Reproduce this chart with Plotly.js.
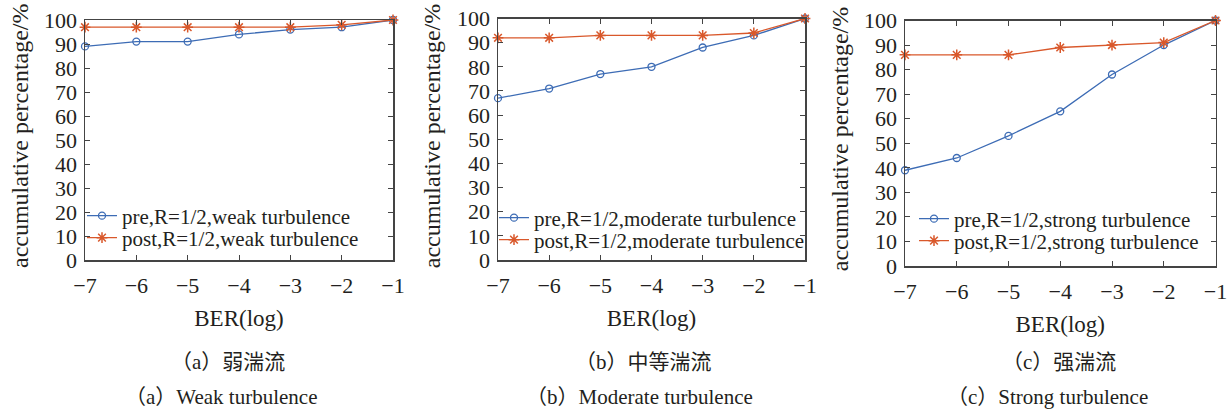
<!DOCTYPE html>
<html>
<head>
<meta charset="utf-8">
<script src="https://cdn.plot.ly/plotly-3.0.1.min.js"></script>
<style>html,body{margin:0;padding:0;background:#fff;}#chart{width:1231px;height:411px;}</style>
</head>
<body>
<div id="chart"></div>
<script>
// ---- data ----
const ber = [-7, -6, -5, -4, -3, -2, -1];
const berTicks = [-7, -6, -5, -4, -3, -2, -1];
const weakPre = [89, 91, 91, 94, 96, 97, 100];
const weakPost = [97, 97, 97, 97, 97, 98, 100];
const moderatePre = [67, 71, 77, 80, 88, 93, 100];
const moderatePost = [92, 92, 93, 93, 93, 94, 100];
const strongPre = [39, 44, 53, 63, 78, 90, 100];
const strongPost = [86, 86, 86, 89, 90, 91, 100];
const preNames = ["pre,R=1/2,weak turbulence", "pre,R=1/2,moderate turbulence", "pre,R=1/2,strong turbulence"];
const postNames = ["post,R=1/2,weak turbulence", "post,R=1/2,moderate turbulence", "post,R=1/2,strong turbulence"];
const yTitle = "accumulative percentage/%";
const xTitle = "BER(log)";
const captionsCN = ["（a）弱湍流", "（b）中等湍流", "（c）强湍流"];
const captionsEN = ["（a）Weak turbulence", "（b）Moderate turbulence", "（c）Strong turbulence"];

// ---- style ----
const W = 1231, H = 411;
const BLUE = "#3d6cb5", RED = "#d9582b", AX = "#444", TXT = "#231f20";
const SERIF = "Liberation Serif, Times New Roman, serif";
const CJK = "Liberation Serif, Noto Sans CJK SC, serif";

// pixel frames of each panel: [left, right, top, bottom]
const frames = [[85, 393, 20, 260], [498, 805, 18.5, 260], [905, 1215.5, 20.5, 266]];
const yTitleX = [20, 432, 840];
const legendX = [82, 494, 914];
const legendY = [[216, 238], [218, 240], [219, 241]];
const captionX = [[228, 221], [643, 639], [1059, 1047]];

const pre = [weakPre, moderatePre, strongPre];
const post = [weakPost, moderatePost, strongPost];

const traces = [];
const layout = {
  width: W, height: H,
  margin: {l: 0, r: 0, t: 0, b: 0},
  paper_bgcolor: "#fff", plot_bgcolor: "#fff",
  font: {family: SERIF, color: TXT, size: 22},
  showlegend: true,
  annotations: []
};

for (let i = 0; i < 3; i++) {
  const [l, r, t, b] = frames[i];
  const xa = i === 0 ? "x" : "x" + (i + 1);
  const ya = i === 0 ? "y" : "y" + (i + 1);
  const xk = i === 0 ? "xaxis" : "xaxis" + (i + 1);
  const yk = i === 0 ? "yaxis" : "yaxis" + (i + 1);
  const lgA = "legend" + (i === 0 ? "" : (2 * i + 1));
  const lgB = "legend" + (2 * i + 2);

  traces.push({
    x: ber, y: pre[i], xaxis: xa, yaxis: ya, type: "scatter", mode: "lines+markers",
    name: preNames[i], legend: lgA, cliponaxis: false,
    line: {color: BLUE, width: 1.3},
    marker: {symbol: "circle-open", size: 7, color: BLUE, line: {color: BLUE, width: 1.3}}
  });
  traces.push({
    x: ber, y: post[i], xaxis: xa, yaxis: ya, type: "scatter", mode: "lines+markers",
    name: postNames[i], legend: lgB, cliponaxis: false,
    line: {color: RED, width: 1.3},
    marker: {symbol: "asterisk-open", size: 9, color: RED, line: {color: RED, width: 1.5}}
  });

  layout[xk] = {
    domain: [l / W, r / W], anchor: ya, range: [-7, -1],
    tickmode: "array", tickvals: berTicks,
    ticks: "inside", ticklen: 5, tickcolor: AX, tickwidth: 1,
    showline: true, linecolor: AX, linewidth: 1.5, mirror: "ticks",
    showgrid: false, zeroline: false,
    tickfont: {family: SERIF, size: 22, color: TXT},
    ticklabelstandoff: 5,
    title: {text: xTitle, font: {family: SERIF, size: 23, color: TXT}, standoff: 13}
  };
  layout[yk] = {
    domain: [1 - b / H, 1 - t / H], anchor: xa, range: [0, 100],
    tickmode: "linear", tick0: 0, dtick: 10,
    ticks: "inside", ticklen: 5, tickcolor: AX, tickwidth: 1,
    showline: true, linecolor: AX, linewidth: 1.5, mirror: "ticks",
    showgrid: false, zeroline: false,
    tickfont: {family: SERIF, size: 22, color: TXT},
    ticklabelstandoff: 2
  };
  layout.annotations.push({
    text: yTitle, xref: "paper", yref: "paper", x: yTitleX[i] / W, y: 1 - ((t + b) / 2 - 4) / H,
    xanchor: "center", yanchor: "middle", textangle: -90, showarrow: false,
    font: {family: SERIF, size: 24, color: TXT}
  });
  layout.annotations.push({
    text: captionsCN[i], xref: "paper", yref: "paper", x: captionX[i][0] / W, y: 1 - 362 / H,
    xanchor: "center", yanchor: "middle", showarrow: false,
    font: {family: CJK, size: 21, color: TXT}
  });
  layout.annotations.push({
    text: captionsEN[i], xref: "paper", yref: "paper", x: captionX[i][1] / W, y: 1 - 397 / H,
    xanchor: "center", yanchor: "middle", showarrow: false,
    font: {family: CJK, size: 21, color: TXT}
  });
  const lgStyle = {
    xanchor: "left", yanchor: "middle", bgcolor: "rgba(0,0,0,0)", borderwidth: 0,
    itemwidth: 30, font: {family: SERIF, size: 21, color: TXT}, tracegroupgap: 0
  };
  layout[lgA] = Object.assign({}, lgStyle, {x: legendX[i] / W, y: 1 - legendY[i][0] / H});
  layout[lgB] = Object.assign({}, lgStyle, {x: legendX[i] / W, y: 1 - legendY[i][1] / H});
}

Plotly.newPlot("chart", traces, layout, {displayModeBar: false, staticPlot: true});
</script>
</body>
</html>
